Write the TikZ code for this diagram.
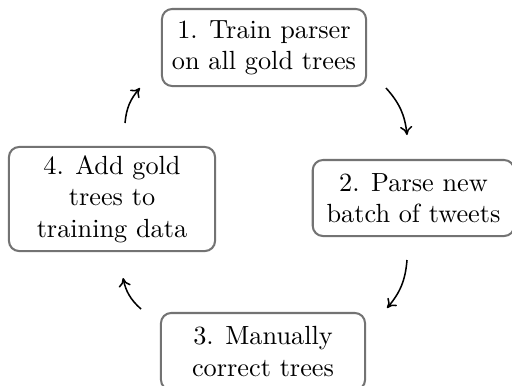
\documentclass[tikz,border=0pt]{standalone}
\usetikzlibrary{arrows.meta}
\begin{document}
\begin{tikzpicture}[x=0.392pt,y=-0.392pt,
  stepbox/.style={draw=black!55, line width=0.8pt, rounded corners=4pt,
    align=center, inner sep=0pt, font=\fontsize{10.3}{12.3}\selectfont},
  cyc/.style={-{To[length=3.4pt,width=4.8pt]}, line width=0.6pt, bend left=18}]
\useasboundingbox (0,0) rectangle (512,385);
\node[stepbox, minimum width=80pt, minimum height=30.2pt] (n1) at (264,47.5)
  {1. Train parser\\on all gold trees};
\node[stepbox, minimum width=79pt, minimum height=29.8pt] (n2) at (413.5,198)
  {2. Parse new\\batch of tweets};
\node[stepbox, minimum width=80pt, minimum height=30.2pt] (n3) at (263,351.5)
  {3. Manually\\correct trees};
\node[stepbox, minimum width=80.8pt, minimum height=40.8pt] (n4) at (112,199)
  {4. Add gold\\trees to\\training data};
\coordinate (a1s) at (386,88);  \coordinate (a1e) at (407,135);
\coordinate (a2s) at (407,260); \coordinate (a2e) at (387,308);
\coordinate (a3s) at (141,309); \coordinate (a3e) at (123,278);
\coordinate (a4s) at (125,123); \coordinate (a4e) at (140,88);
\draw[cyc] (a1s) to (a1e);
\draw[cyc] (a2s) to (a2e);
\draw[cyc] (a3s) to (a3e);
\draw[cyc] (a4s) to (a4e);
\end{tikzpicture}
\end{document}
